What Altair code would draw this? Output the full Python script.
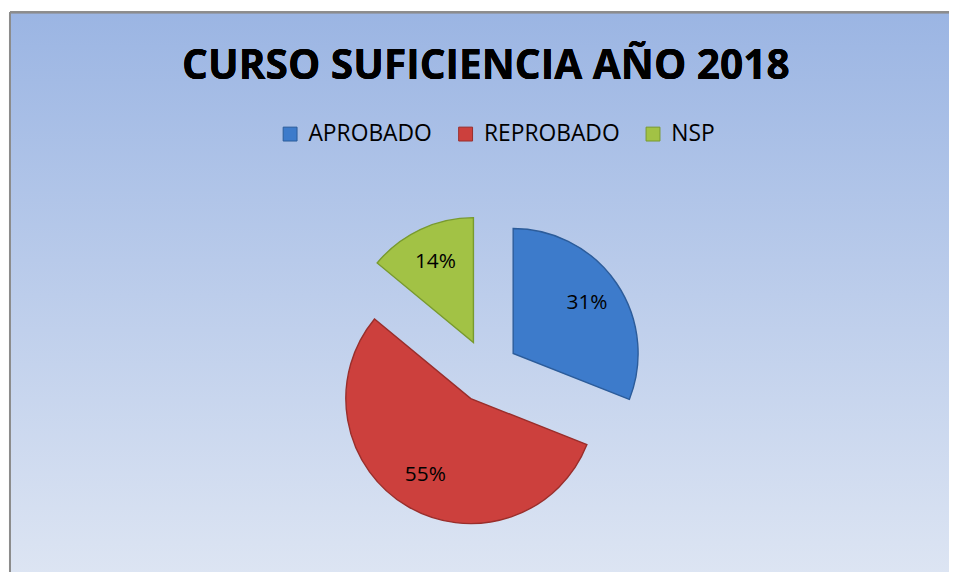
import altair as alt
import pandas as pd

categories = ["APROBADO", "REPROBADO", "NSP"]
values = [31, 55, 14]
colors = ["#3D7BCB", "#CC403D", "#A2C245"]
strokes = ["#2C5C9A", "#992E2B", "#789A2E"]
title_text = "CURSO SUFICIENCIA AÑO 2018"

W, H = 947, 562
CX, CY = 481, 362
R = 126
EXPLODE = 32
LABEL_R = 122

df = pd.DataFrame({"cat": categories, "v": values, "order": list(range(len(categories)))})

bg = alt.Chart(df).mark_rect(
    color=alt.LinearGradient(
        gradient="linear",
        stops=[alt.GradientStop(color="#9BB5E3", offset=0),
               alt.GradientStop(color="#DDE5F3", offset=1)],
        x1=0, x2=0, y1=0, y2=1,
    )
).encode(x=alt.value(0), x2=alt.value(W), y=alt.value(0), y2=alt.value(H + 8))

left_rule = alt.Chart(df).mark_rule(color="#8C8C8C", strokeWidth=2).encode(
    x=alt.value(0), y=alt.value(0), y2=alt.value(H + 30))
top_rule = alt.Chart(df).mark_rule(color="#8C8C8C", strokeWidth=2).encode(
    x=alt.value(0), x2=alt.value(W + 20), y=alt.value(0))

base = alt.Chart(df).transform_joinaggregate(
    total="sum(v)"
).transform_window(
    cum="sum(v)", sort=[alt.SortField("order")], frame=[None, 0]
).transform_calculate(
    t0="(datum.cum - datum.v) / datum.total * 2 * PI",
    t1="datum.cum / datum.total * 2 * PI",
).transform_calculate(
    mid="(datum.t0 + datum.t1) / 2",
).transform_calculate(
    px=f"{CX} + {EXPLODE} * sin(datum.mid)",
    py=f"{CY} - {EXPLODE} * cos(datum.mid)",
    lx=f"{CX} + {LABEL_R} * sin(datum.mid)",
    ly=f"{CY} - {LABEL_R} * cos(datum.mid)",
    label="format(datum.v / datum.total, '.0%')",
)

arcs = base.mark_arc(radius=R, strokeWidth=1.4).encode(
    x=alt.X("px:Q", scale=None, axis=None),
    y=alt.Y("py:Q", scale=None, axis=None),
    theta=alt.Theta("t0:Q", scale=None, stack=None),
    theta2=alt.Theta2("t1:Q"),
    color=alt.Color(
        "cat:N",
        scale=alt.Scale(domain=categories, range=colors),
        legend=alt.Legend(
            orient="none", legendX=271, legendY=111, direction="horizontal",
            title=None, symbolType="square", symbolSize=196,
            labelFontSize=23, labelFont="Open Sans", labelColor="black",
            labelOffset=7, columnPadding=22, padding=0,
            symbolStrokeWidth=1, symbolStrokeColor="#333333",
        ),
    ),
    stroke=alt.Stroke("cat:N", scale=alt.Scale(domain=categories, range=strokes), legend=None),
)

labels = base.mark_text(font="Open Sans", fontSize=21, color="black").encode(
    x=alt.X("lx:Q", scale=None, axis=None),
    y=alt.Y("ly:Q", scale=None, axis=None),
    text="label:N",
)

title = alt.Chart(df).mark_text(
    font="Open Sans", fontSize=41, fontWeight="bold", color="black",
    baseline="alphabetic", align="center",
).encode(x=alt.value(480), y=alt.value(67), text=alt.value(title_text))

chart = alt.layer(bg, left_rule, top_rule, arcs, labels, title).properties(
    width=W, height=H,
    padding={"left": 2, "top": 2, "right": 0, "bottom": 0},
    autosize=alt.AutoSizeParams(type="none"),
).configure_view(stroke=None)

chart.save("out.html", embed_options={"renderer": "svg", "actions": False})
